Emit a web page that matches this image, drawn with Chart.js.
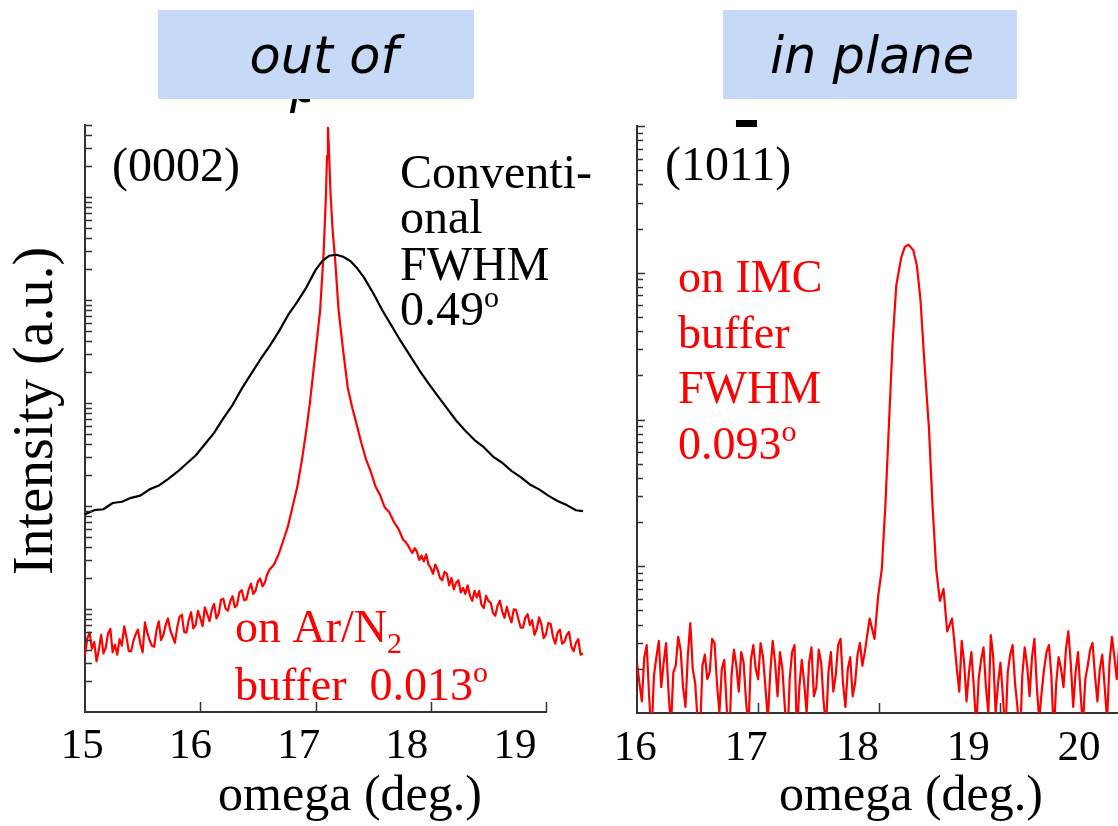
<!DOCTYPE html>
<html>
<head>
<meta charset="utf-8">
<script src="https://cdn.jsdelivr.net/npm/chart.js@4.4.1/dist/chart.umd.min.js"></script>
<style>
  html, body { margin: 0; padding: 0; background: #fff; }
  #wrap { position: relative; width: 1118px; height: 826px; overflow: hidden; }
  canvas { position: absolute; top: 0; }
  #outCv { left: 0; }
  #inCv { left: 600px; }
</style>
</head>
<body>
<div id="wrap">
  <canvas id="outCv" width="600" height="826"></canvas>
  <canvas id="inCv" width="518" height="826"></canvas>
</div>
<script>
// ---- tick values ----
const outTickX = [15, 16, 17, 18, 19];
const inTickX = [16, 17, 18, 19, 20];
const tickMantissas = [1, 2, 3, 4, 5, 6, 7, 8, 9];
const outDecades = [1, 10, 100, 1000, 10000, 100000];
const inDecades = [1, 10, 100, 1000, 10000];

// ---- (0002) omega scan, conventional film (a.u.) ----
const convX = [15.00, 15.08, 15.16, 15.24, 15.32, 15.40, 15.48, 15.56, 15.64, 15.72,
               15.80, 15.88, 15.96, 16.04, 16.12, 16.20, 16.28, 16.36, 16.44, 16.52,
               16.60, 16.68, 16.76, 16.84, 16.92, 17.00, 17.06, 17.12, 17.18, 17.24,
               17.30, 17.36, 17.42, 17.50, 17.58, 17.66, 17.74, 17.82, 17.90, 17.98,
               18.06, 18.14, 18.22, 18.30, 18.38, 18.46, 18.54, 18.62, 18.70, 18.78,
               18.86, 18.94, 19.02, 19.10, 19.18, 19.26, 19.32];
const convY = [83, 91, 93, 107, 110, 120, 126, 145, 158, 182,
               214, 257, 309, 398, 513, 708, 955, 1380, 1910, 2630,
               3550, 4900, 7080, 9550, 13200, 19500, 24000, 26900, 27500, 26300,
               24000, 20400, 16600, 11700, 7940, 5620, 3980, 2880, 2090, 1550,
               1170, 891, 676, 537, 437, 372, 302, 263, 219, 191,
               162, 145, 126, 112, 102, 91, 89];

// ---- (0002) omega scan, film on Ar/N2 buffer (a.u.) ----
const arN2X = [
  15.00, 15.02, 15.04, 15.06, 15.08, 15.10, 15.12, 15.14, 15.16, 15.18,
  15.20, 15.22, 15.24, 15.26, 15.28, 15.30, 15.32, 15.34, 15.36, 15.38,
  15.40, 15.42, 15.44, 15.46, 15.48, 15.50, 15.52, 15.54, 15.56, 15.58,
  15.60, 15.62, 15.64, 15.66, 15.68, 15.70, 15.72, 15.74, 15.76, 15.78,
  15.80, 15.82, 15.84, 15.86, 15.88, 15.90, 15.92, 15.94, 15.96, 15.98,
  16.00, 16.02, 16.04, 16.06, 16.08, 16.10, 16.12, 16.14, 16.16, 16.18,
  16.20, 16.22, 16.24, 16.26, 16.28, 16.30, 16.32, 16.34, 16.36, 16.38,
  16.40, 16.42, 16.44, 16.46, 16.48, 16.50, 16.52, 16.54, 16.56, 16.58,
  16.60,
  16.64, 16.68, 16.72, 16.76, 16.80, 16.84, 16.88,
  16.92, 16.95, 16.98, 17.01, 17.04, 17.07, 17.09, 17.10, 17.108, 17.116,
  17.13, 17.15, 17.17, 17.20,
  17.24, 17.28, 17.32, 17.36, 17.40, 17.44, 17.48, 17.52, 17.56, 17.60,
  17.64, 17.68, 17.72, 17.76,
  17.78, 17.80, 17.82, 17.84, 17.86, 17.88, 17.90, 17.92, 17.94, 17.96,
  17.98, 18.00, 18.02, 18.04, 18.06, 18.08, 18.10, 18.12, 18.14, 18.16,
  18.18, 18.20, 18.22, 18.24, 18.26, 18.28, 18.30, 18.32, 18.34, 18.36,
  18.38, 18.40, 18.42, 18.44, 18.46, 18.48, 18.50, 18.52, 18.54, 18.56,
  18.58, 18.60, 18.62, 18.64, 18.66, 18.68, 18.70, 18.72, 18.74, 18.76,
  18.78, 18.80, 18.82, 18.84, 18.86, 18.88, 18.90, 18.92, 18.94, 18.96,
  18.98, 19.00, 19.02, 19.04, 19.06, 19.08, 19.10, 19.12, 19.14, 19.16,
  19.18, 19.20, 19.22, 19.24, 19.26, 19.28, 19.30, 19.32];
const arN2Y = [
  3.6, 5.2, 5.9, 4.1, 4.8, 3.1, 4.0, 5.6, 3.7, 4.2,
  5.8, 6.4, 3.8, 4.5, 3.6, 5.1, 4.4, 6.8, 5.3, 3.9,
  3.9, 4.9, 5.7, 6.3, 4.6, 3.8, 7.4, 5.9, 5.0, 4.4,
  4.3, 6.2, 7.6, 5.0, 5.6, 7.0, 8.1, 6.2, 5.4, 4.7,
  6.6, 8.4, 8.8, 6.0, 5.9, 7.8, 9.3, 6.5, 7.0, 9.6,
  8.2, 6.8, 10.4, 9.0, 7.6, 9.8, 11.2, 8.1, 9.0, 12.3,
  12.6, 10.1, 9.6, 11.8, 13.3, 10.4, 11.0, 14.5, 15.2, 12.2,
  12.4, 15.4, 17.6, 14.0, 15.1, 18.5, 19.8, 16.6, 18.0, 21.5,
  24,
  27, 34, 46, 63, 97, 150, 270,
  540, 980, 1950, 3900, 7900, 28000, 100000, 250000, 470000, 300000,
  110000, 45000, 25000, 8000,
  3200, 1400, 890, 600, 400, 280, 215, 155, 128, 97,
  87, 70, 60, 47,
  45, 42, 38, 35, 39, 36, 30, 33, 29, 34,
  27, 25, 22, 27, 24, 20, 19, 23, 22, 17,
  20, 15.5, 18, 19, 14.5, 16, 14, 17, 13.5, 12,
  15, 13, 15, 11, 10.2, 13.5, 12, 11.5, 9.2, 8.6,
  10.8, 12, 9.5, 8.2, 10.5, 8.7, 7.4, 9.9, 9.8, 8.0,
  6.6, 6.6, 8.2, 8.9, 7.0, 7.8, 5.6, 6.4, 8.3, 7.1,
  5.2, 5.7, 7.3, 7.2, 5.4, 4.6, 5.9, 6.3, 4.6, 4.8,
  5.6, 6.0, 4.3, 3.9, 4.7, 5.1, 3.6, 3.7];

// ---- (10-11) omega scan, film on IMC buffer (a.u.) ----
const imcX = [
  16.00, 16.02, 16.04, 16.06, 16.08, 16.10, 16.12, 16.14, 16.16, 16.18,
  16.20, 16.22, 16.24, 16.26, 16.28, 16.30, 16.32, 16.34, 16.36, 16.38,
  16.40, 16.42, 16.44, 16.46, 16.48, 16.50, 16.52, 16.54, 16.56, 16.58,
  16.60, 16.62, 16.64, 16.66, 16.68, 16.70, 16.72, 16.74, 16.76, 16.78,
  16.80, 16.82, 16.84, 16.86, 16.88, 16.90, 16.92, 16.94, 16.96, 16.98,
  17.00, 17.02, 17.04, 17.06, 17.08, 17.10, 17.12, 17.14, 17.16, 17.18,
  17.20, 17.22, 17.24, 17.26, 17.28, 17.30, 17.32, 17.34, 17.36, 17.38,
  17.40, 17.42, 17.44, 17.46, 17.48, 17.50, 17.52, 17.54, 17.56, 17.58,
  17.60, 17.62, 17.64, 17.66, 17.68, 17.70, 17.72, 17.74, 17.76, 17.78,
  17.80, 17.82, 17.84, 17.86, 17.88,
  17.92, 17.96, 17.99, 18.02, 18.05, 18.08, 18.11, 18.14, 18.18, 18.21,
  18.24, 18.28, 18.31, 18.34, 18.37, 18.41, 18.44, 18.47, 18.50, 18.53,
  18.56, 18.60,
  18.62, 18.64, 18.66, 18.68, 18.70, 18.72, 18.74, 18.76, 18.78, 18.80,
  18.82, 18.84, 18.86, 18.88, 18.90, 18.92, 18.94, 18.96, 18.98, 19.00,
  19.02, 19.04, 19.06, 19.08, 19.10, 19.12, 19.14, 19.16, 19.18, 19.20,
  19.22, 19.24, 19.26, 19.28, 19.30, 19.32, 19.34, 19.36, 19.38, 19.40,
  19.42, 19.44, 19.46, 19.48, 19.50, 19.52, 19.54, 19.56, 19.58, 19.60,
  19.62, 19.64, 19.66, 19.68, 19.70, 19.72, 19.74, 19.76, 19.78, 19.80,
  19.82, 19.84, 19.86, 19.88, 19.90, 19.92, 19.94, 19.96, 19.98, 20.00];
const imcY = [
  2.2, 1.6, 1.2, 2.4, 2.9, 1.3, 0.7, 1.8, 2.4, 3.1,
  1.5, 2.2, 3.0, 1.4, 0.8, 1.9, 2.1, 3.3, 2.7, 1.5,
  1.1, 2.5, 4.1, 2.0, 1.6, 0.9, 0.7, 2.1, 2.5, 1.7,
  1.9, 3.2, 3.0, 1.6, 1.0, 2.0, 2.3, 1.1, 0.6, 1.8,
  2.7, 2.1, 1.4, 2.6, 2.2, 1.2, 0.8, 2.3, 2.9, 2.0,
  1.7, 3.0, 2.4, 1.5, 0.9, 1.9, 3.1, 2.2, 1.3, 2.6,
  2.0, 1.1, 0.6, 1.7, 2.6, 2.9, 0.7, 1.5, 2.3, 1.6,
  1.0, 2.2, 2.8, 1.3, 1.5, 2.7, 2.2, 1.2, 0.8, 1.9,
  2.6, 1.4, 1.8, 2.9, 3.2, 1.6, 1.1, 2.0, 2.4, 1.3,
  1.6, 2.5, 3.0, 2.1, 2.6,
  4.4, 3.2, 6.2, 9.5, 26, 95, 340, 820, 1260, 1500,
  1550, 1430, 1120, 650, 260, 86, 25, 9.5, 5.8, 7.0,
  3.6, 4.4,
  3.0, 2.0, 1.4, 3.1, 2.2, 1.2, 1.9, 2.6, 1.5, 0.8,
  1.7, 2.3, 2.8, 1.5, 1.0, 3.4, 2.4, 1.0, 1.6, 2.2,
  1.3, 0.7, 1.9, 2.5, 2.9, 1.6, 1.1, 0.6, 1.8, 2.8,
  2.1, 1.3, 2.4, 3.2, 1.5, 0.9, 1.4, 2.0, 2.6, 2.9,
  1.8, 0.7, 1.6, 2.4, 2.0, 1.5, 2.7, 3.6, 2.2, 1.1,
  1.9, 2.6, 1.4, 0.8, 1.7, 2.1, 2.7, 3.0, 1.8, 1.2,
  2.0, 2.5, 1.5, 0.9, 2.2, 3.3, 2.4, 1.7, 2.9, 2.4];

// ---- styling ----
const SERIF = "'Liberation Serif', 'Times New Roman', Times, serif";
const SANS = "'DejaVu Sans', Verdana, sans-serif";
const AXIS = '#333333';
const RED = '#ff0000';
const BOX = '#c6d9f7';

function pts(xs, ys) { return xs.map((x, i) => ({ x: x, y: ys[i] })); }

function logTicks(decades, max) {
  const out = [];
  decades.forEach(d => tickMantissas.forEach(m => {
    const v = m * d;
    if (v <= max * 1.0001) out.push({ value: v, major: m === 1 });
  }));
  return out;
}

// short tick marks pointing into the plot area, plus an optional
// bottom axis line that stops at a given x value
const inwardTicks = {
  id: 'inwardTicks',
  afterDatasetsDraw(chart, args, opts) {
    const { ctx, chartArea } = chart;
    const xs = chart.scales.x, ys = chart.scales.y;
    ctx.save();
    ctx.strokeStyle = AXIS;
    if (opts.axisEnd !== undefined) {
      ctx.lineWidth = 2;
      ctx.beginPath();
      ctx.moveTo(chartArea.left - 1, chartArea.bottom);
      ctx.lineTo(xs.getPixelForValue(opts.axisEnd) + 1, chartArea.bottom);
      ctx.stroke();
    }
    ctx.lineWidth = 1.5;
    ctx.beginPath();
    ys.ticks.forEach(t => {
      const py = Math.round(ys.getPixelForValue(t.value)) + 0.5;
      if (py < chartArea.top - 1 || py > chartArea.bottom - 2) return;
      const len = t.major ? opts.yMajor : opts.yMinor;
      ctx.moveTo(chartArea.left, py);
      ctx.lineTo(chartArea.left + len, py);
    });
    xs.ticks.forEach(t => {
      const px = Math.round(xs.getPixelForValue(t.value)) + 0.5;
      if (px < chartArea.left + 2 || px > chartArea.right + 1) return;
      ctx.moveTo(px, chartArea.bottom);
      ctx.lineTo(px, chartArea.bottom - opts.xLen);
    });
    ctx.stroke();
    ctx.restore();
  }
};

// text drawn as runs: [text, size, baseline shift]
function drawRuns(ctx, x, y, runs, color) {
  ctx.fillStyle = color;
  ctx.textAlign = 'left';
  ctx.textBaseline = 'alphabetic';
  let cx = x;
  runs.forEach(([t, size, dy]) => {
    ctx.font = size + 'px ' + SERIF;
    ctx.fillText(t, cx, y + dy);
    cx += ctx.measureText(t).width;
  });
}

function headerBox(ctx, x, y, w, h, text, cx, base) {
  ctx.fillStyle = BOX;
  ctx.fillRect(x, y, w, h);
  ctx.fillStyle = '#000';
  ctx.font = 'italic 51px ' + SANS;
  ctx.textAlign = 'center';
  ctx.textBaseline = 'alphabetic';
  ctx.fillText(text, cx, base);
}

function axisTitle(ctx, text, cx, base) {
  ctx.fillStyle = '#000';
  ctx.font = '50px ' + SERIF;
  ctx.textAlign = 'center';
  ctx.textBaseline = 'alphabetic';
  ctx.fillText(text, cx, base);
}

const outAnnot = {
  id: 'outAnnot',
  afterDraw(chart) {
    const c = chart.ctx;
    c.save();
    // second header line, mostly hidden under the box
    c.save();
    c.beginPath();
    c.rect(280, 99, 30, 20);
    c.clip();
    c.fillStyle = '#000';
    c.font = 'italic 51px ' + SANS;
    c.textAlign = 'left';
    c.fillText('plane', 290, 102);
    c.restore();
    headerBox(c, 158, 10, 316, 89, 'out of', 324, 73);

    drawRuns(c, 112, 181, [['(0002)', 48, 0]], '#000');
    drawRuns(c, 400, 188, [['Conventi-', 48, 0]], '#000');
    drawRuns(c, 400, 233, [['onal', 48, 0]], '#000');
    drawRuns(c, 400, 280, [['FWHM', 48, 0]], '#000');
    drawRuns(c, 400, 325, [['0.49', 48, 0], ['o', 30, -18]], '#000');

    drawRuns(c, 235, 642, [['on Ar/N', 46, 0], ['2', 30, 11]], RED);
    drawRuns(c, 235, 700, [['buffer  0.013', 46, 0], ['o', 30, -18]], RED);

    axisTitle(c, 'omega (deg.)', 350, 810);

    c.save();
    c.translate(52, 411);
    c.rotate(-Math.PI / 2);
    c.fillStyle = '#000';
    c.font = '56px ' + SERIF;
    c.textAlign = 'center';
    c.textBaseline = 'alphabetic';
    c.fillText('Intensity (a.u.)', 0, 0);
    c.restore();
    c.restore();
  }
};

const inAnnot = {
  id: 'inAnnot',
  afterDraw(chart) {
    const c = chart.ctx;
    const ox = 600;
    c.save();
    headerBox(c, 723 - ox, 10, 294, 89, 'in plane', 872 - ox, 73);

    // (10-11) with a bar over the third index
    drawRuns(c, 665 - ox, 180, [['(1011)', 48, 0]], '#000');
    c.font = '48px ' + SERIF;
    const barX = 665 - ox + c.measureText('(10').width + 7;
    c.fillStyle = '#000';
    c.fillRect(barX, 120, 21, 7);

    drawRuns(c, 678 - ox, 292, [['on IMC', 46, 0]], RED);
    drawRuns(c, 678 - ox, 348, [['buffer', 46, 0]], RED);
    drawRuns(c, 678 - ox, 403, [['FWHM', 46, 0]], RED);
    drawRuns(c, 678 - ox, 459, [['0.093', 46, 0], ['o', 30, -18]], RED);

    axisTitle(c, 'omega (deg.)', 911 - ox, 810);
    c.restore();
  }
};

function baseOptions() {
  return {
    responsive: false,
    animation: false,
    events: [],
    devicePixelRatio: 1,
    elements: { point: { radius: 0 }, line: { borderJoinStyle: 'round', tension: 0 } }
  };
}

// ---- out-of-plane panel ----
new Chart(document.getElementById('outCv'), {
  type: 'line',
  data: {
    datasets: [
      { data: pts(convX, convY), borderColor: '#000', borderWidth: 2.2, xAxisID: 'x', yAxisID: 'y', clip: false },
      { data: pts(arN2X, arN2Y), borderColor: RED, borderWidth: 2.2, xAxisID: 'x', yAxisID: 'y', clip: false }
    ]
  },
  options: Object.assign(baseOptions(), {
    layout: { padding: { top: 125, right: 17, bottom: 0, left: 0 } },
    scales: {
      x: {
        type: 'linear', position: 'bottom', min: 15, max: 19.321, weight: 0,
        grid: { display: false }, border: { display: false },
        ticks: { display: false },
        afterBuildTicks: s => { s.ticks = outTickX.map(v => ({ value: v })); },
        afterFit: s => { s.height = 0; }
      },
      xl: {
        type: 'linear', position: 'bottom', min: 15.025, max: 19.628, weight: 1,
        grid: { display: false }, border: { display: false },
        ticks: { autoSkip: false, maxRotation: 0, minRotation: 0, padding: 1, color: '#000',
                 font: { family: SERIF, size: 43 } },
        afterBuildTicks: s => { s.ticks = outTickX.map(v => ({ value: v })); },
        afterFit: s => { s.height = 114; }
      },
      y: {
        type: 'logarithmic', position: 'left', min: 1, max: 5e5,
        grid: { display: false }, border: { display: true, color: AXIS, width: 2 },
        ticks: { display: false },
        afterBuildTicks: s => { s.ticks = logTicks(outDecades, 5e5); },
        afterFit: s => { s.width = 85; }
      }
    },
    plugins: {
      legend: { display: false },
      tooltip: { enabled: false },
      inwardTicks: { yMajor: 7, yMinor: 7, xLen: 10, axisEnd: 19 }
    }
  }),
  plugins: [inwardTicks, outAnnot]
});

// ---- in-plane panel ----
new Chart(document.getElementById('inCv'), {
  type: 'line',
  data: {
    datasets: [
      { data: pts(imcX, imcY), borderColor: RED, borderWidth: 2.2, xAxisID: 'x', yAxisID: 'y', clip: 0 }
    ]
  },
  options: Object.assign(baseOptions(), {
    layout: { padding: { top: 126, right: 0, bottom: 0, left: 0 } },
    scales: {
      x: {
        type: 'linear', position: 'bottom', min: 16, max: 19.97, weight: 0,
        grid: { display: false }, border: { display: true, color: AXIS, width: 2 },
        ticks: { display: false },
        afterBuildTicks: s => { s.ticks = inTickX.map(v => ({ value: v })); },
        afterFit: s => { s.height = 0; }
      },
      xl: {
        type: 'linear', position: 'bottom', min: 16.015, max: 20.351, weight: 1,
        grid: { display: false }, border: { display: false },
        ticks: { autoSkip: false, maxRotation: 0, minRotation: 0, padding: 2, color: '#000',
                 font: { family: SERIF, size: 43 } },
        afterBuildTicks: s => { s.ticks = inTickX.map(v => ({ value: v })); },
        afterFit: s => { s.height = 113; }
      },
      y: {
        type: 'logarithmic', position: 'left', min: 1, max: 1e4,
        grid: { display: false }, border: { display: true, color: AXIS, width: 2 },
        ticks: { display: false },
        afterBuildTicks: s => { s.ticks = logTicks(inDecades, 1e4); },
        afterFit: s => { s.width = 37; }
      }
    },
    plugins: {
      legend: { display: false },
      tooltip: { enabled: false },
      inwardTicks: { yMajor: 8, yMinor: 6, xLen: 10 }
    }
  }),
  plugins: [inwardTicks, inAnnot]
});
</script>
</body>
</html>
